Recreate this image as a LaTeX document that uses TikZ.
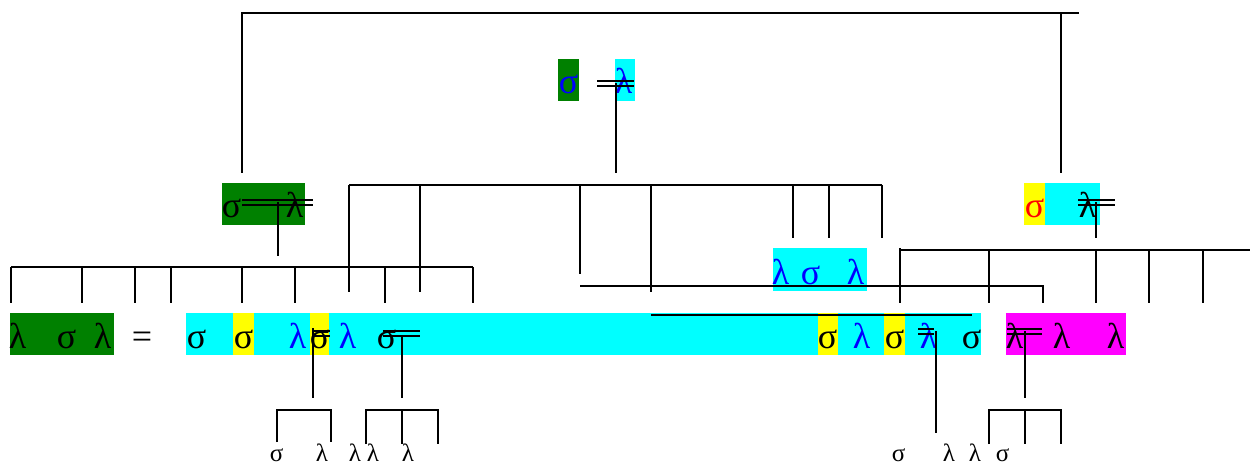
\documentclass[tikz,border=0pt]{standalone}
\usepackage{fontspec}
\setmainfont{Liberation Serif}
\definecolor{leafgreen}{RGB}{0,128,0}
\definecolor{boxcyan}{RGB}{0,255,255}
\definecolor{boxyellow}{RGB}{255,255,0}
\definecolor{boxmagenta}{RGB}{255,0,255}
\definecolor{inkblue}{RGB}{0,0,255}
\definecolor{inkred}{RGB}{255,0,0}
\usepackage{tikz}

\begin{document}
\begin{tikzpicture}[x=1pt, y=-1pt, line width=1.6pt,
    box/.style={inner sep=0pt, outer sep=0pt, anchor=north west, minimum height=42pt},
    glyph/.style={inner sep=0pt, anchor=base west, font=\fontsize{36}{42}\selectfont},
    leaf/.style={inner sep=0pt, anchor=base west, font=\fontsize{25}{29}\selectfont},
    bar/.style={line width=1.8pt}]
        \useasboundingbox (0,0) rectangle (1250,462);

        % Coloured boxes
        \node[box, fill=leafgreen, minimum width=21pt] (topl) at (558,59) {};
        \node[box, fill=boxcyan, minimum width=20pt] (topr) at (615,59) {};
        \node[box, fill=leafgreen, minimum width=83pt] (midl) at (222,183) {};
        \node[box, fill=boxyellow, minimum width=21pt] (midy) at (1024,183) {};
        \node[box, fill=boxcyan, minimum width=55pt] (midc) at (1045,183) {};
        \node[box, fill=boxcyan, minimum width=94pt, minimum height=43pt] (inner) at (773,248) {};
        \node[box, fill=leafgreen, minimum width=104pt] (lhs) at (10,313) {};
        \node[box, fill=boxcyan, minimum width=795pt] (rhs) at (186,313) {};
        \node[box, fill=boxyellow, minimum width=21pt] (ya) at (233,313) {};
        \node[box, fill=boxyellow, minimum width=19pt] (yb) at (310,313) {};
        \node[box, fill=boxyellow, minimum width=20pt] (yc) at (818,313) {};
        \node[box, fill=boxyellow, minimum width=21pt] (yd) at (884,313) {};
        \node[box, fill=boxmagenta, minimum width=120pt] (tail) at (1006,313) {};

        % Top and middle symbols
        \node[glyph, inkblue] (ts) at (558,94) {σ};
        \node[glyph, inkblue] (tl) at (614,94) {λ};
        \node[glyph] (ms) at (221,218) {σ};
        \node[glyph] (ml) at (285,218) {λ};
        \node[glyph, inkred] (rs) at (1024,218) {σ};
        \node[glyph] (rl) at (1078,218) {λ};
        \node[glyph, inkblue] (il) at (771,284) {λ};
        \node[glyph, inkblue] (is) at (800,284) {σ};
        \node[glyph, inkblue] (ir) at (846,284) {λ};

        % Equation row
        \node[glyph] (a1) at (8,348) {λ};
        \node[glyph] (a2) at (56,348) {σ};
        \node[glyph] (a3) at (93,348) {λ};
        \node[glyph] (eq) at (131,348) {=};
        \node[glyph] (b1) at (186,348) {σ};
        \node[glyph] (b2) at (233,348) {σ};
        \node[glyph, inkblue] (b3) at (288,348) {λ};
        \node[glyph] (b4) at (309,348) {σ};
        \node[glyph, inkblue] (b5) at (338,348) {λ};
        \node[glyph] (b6) at (376,348) {σ};
        \node[glyph] (c1) at (817,348) {σ};
        \node[glyph, inkblue] (c2) at (852,348) {λ};
        \node[glyph] (c3) at (884,348) {σ};
        \node[glyph, inkblue] (c4) at (919,348) {λ};
        \node[glyph] (c5) at (961,348) {σ};
        \node[glyph] (d1) at (1005,348) {λ};
        \node[glyph] (d2) at (1052,348) {λ};
        \node[glyph] (d3) at (1106,348) {λ};

        % Leaves
        \node[leaf] (e1) at (269,461) {σ};
        \node[leaf] (e2) at (315,461) {λ};
        \node[leaf] (e3) at (348,461) {λ};
        \node[leaf] (e4) at (366,461) {λ};
        \node[leaf] (e5) at (401,461) {λ};
        \node[leaf] (f1) at (891,461) {σ};
        \node[leaf] (f2) at (942,461) {λ};
        \node[leaf] (f3) at (968,461) {λ};
        \node[leaf] (f4) at (995,461) {σ};

        % Double bars
        \foreach \xa/\xb/\ya in {597/634/81, 242/313/200, 1078/1115/200,
                                 312/330/331, 383/420/331, 918/934/329, 1007/1042/329}
          \draw[bar] (\xa,\ya) -- (\xb,\ya) (\xa,\ya+5) -- (\xb,\ya+5);

        % Stems
        \draw (616,83) -- (616,173);
        \draw (278,202) -- (278,256);
        \draw (1096,202) -- (1096,238);
        \draw (313,328) -- (313,398);
        \draw (402,336) -- (402,398);
        \draw (936,331) -- (936,433);
        \draw (1025,331) -- (1025,398);

        % Top bracket
        \draw (242,173) -- (242,13) -- (1079,13);
        \draw (1061,13) -- (1061,173);

        % Middle bracket
        \draw (349,185) -- (882,185);
        \foreach \x/\y in {349/292, 420/292, 580/274, 651/292, 793/238, 829/238, 882/238}
          \draw (\x,185) -- (\x,\y);

        % Left bracket
        \draw (11,267) -- (473,267);
        \foreach \x in {11,82,135,171,242,295,385,473}
          \draw (\x,267) -- (\x,303);

        % Right bracket
        \draw (900,250) -- (1250,250);
        \draw (900,248) -- (900,303);
        \foreach \x in {989,1096,1149,1203}
          \draw (\x,250) -- (\x,303);

        % Long runs
        \draw (580,286) -- (1043,286) -- (1043,303);
        \draw (651,315) -- (972,315);

        % Bottom brackets
        \draw (277,442) -- (277,410) -- (331,410) -- (331,442);
        \draw (366,444) -- (366,410) -- (438,410) -- (438,444);
        \draw (402,410) -- (402,444);
        \draw (989,444) -- (989,410) -- (1061,410) -- (1061,444);
        \draw (1025,410) -- (1025,444);
      \end{tikzpicture}
\end{document}
